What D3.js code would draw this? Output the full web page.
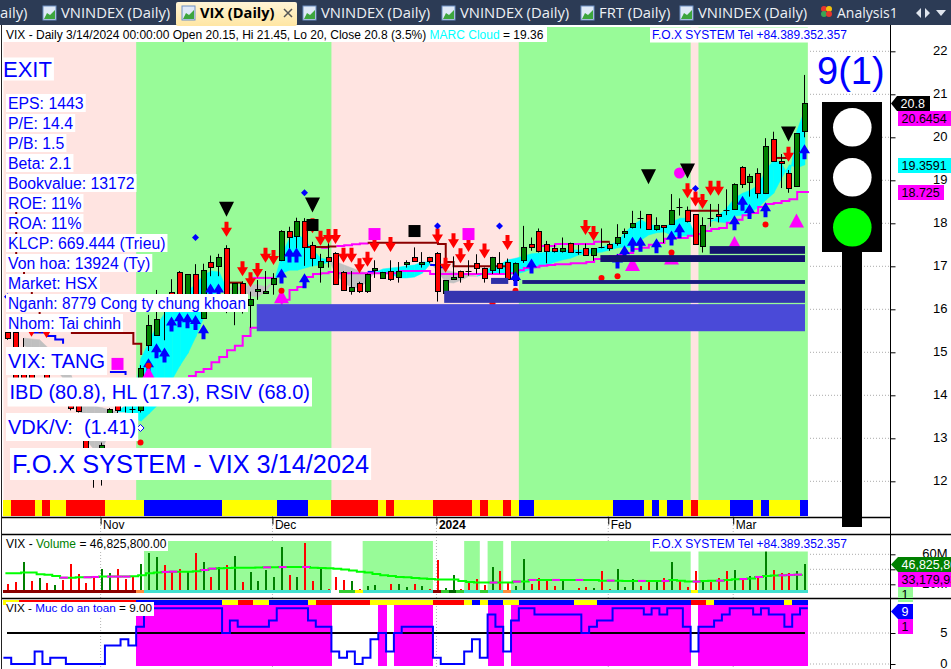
<!DOCTYPE html>
<html>
<head>
<meta charset="utf-8">
<title>VIX (Daily)</title>
<script src="https://cdn.jsdelivr.net/npm/d3@7"></script>
<style>
  html, body { margin: 0; padding: 0; background: #fff; overflow: hidden; }
  svg { display: block; font-family: "Liberation Sans", Arial, sans-serif; }
</style>
</head>
<body>
<svg id="chart" width="951" height="669"></svg>
<script>
// daily bars, oldest first (3/14/2024 is the last one)
var opens = [
  15.47,15.47,15.05,14.85,14.20,14.65,14.10,14.00,13.95,13.90,
  13.00,12.10,12.20,13.20,14.00,13.90,13.68,13.66,15.16,15.40,
  16.05,16.41,16.86,16.05,16.81,15.79,17.11,16.99,17.42,16.14,
  16.61,16.11,16.42,16.37,16.59,17.15,17.82,17.69,18.05,17.50,
  16.99,17.21,17.30,16.86,16.41,16.60,16.41,16.90,16.72,16.90,
  16.76,17.06,17.21,17.06,17.21,17.30,16.36,16.72,16.90,16.90,
  17.07,16.95,16.90,17.07,17.11,16.67,17.15,17.51,17.81,17.51,
  17.42,17.34,17.55,17.34,17.42,17.25,17.45,17.51,17.55,17.76,
  17.90,18.12,18.21,17.86,17.95,17.99,18.37,18.30,18.21,17.46,
  18.12,18.21,18.30,18.34,19.30,18.95,19.16,18.69,19.95,19.44,
  19.16,18.86,20.15];
var highs = [
  15.73,15.52,15.33,15.10,14.34,14.70,14.30,14.20,14.10,14.05,
  13.10,12.75,12.90,13.70,14.10,14.00,13.90,14.70,15.87,16.45,
  16.30,16.70,16.89,16.82,17.05,17.06,17.25,17.29,17.49,16.61,
  16.65,16.41,16.68,16.89,16.84,17.84,17.92,18.13,18.12,17.57,
  17.29,17.57,17.33,16.89,16.89,16.64,16.83,17.14,16.87,17.14,
  17.10,17.14,17.44,17.33,17.22,17.33,16.68,17.23,16.90,17.14,
  17.28,16.97,17.22,17.33,17.18,17.09,17.94,17.67,17.88,17.59,
  17.50,17.67,17.55,17.50,17.53,17.42,17.88,17.55,17.98,17.88,
  18.29,18.29,18.21,18.14,17.95,18.68,18.58,18.39,18.21,18.14,
  18.45,18.45,18.79,18.93,19.33,19.15,19.28,19.98,20.13,19.61,
  19.24,20.09,21.45];
var lows = [
  15.29,14.35,14.70,14.30,14.00,14.30,13.90,13.80,13.65,13.60,
  12.40,11.85,11.90,13.00,13.55,13.60,13.58,13.60,15.03,15.38,
  15.28,15.99,16.05,16.00,16.00,15.79,16.77,16.77,15.91,15.63,
  15.90,15.57,16.22,16.37,16.34,17.12,17.42,17.39,17.01,17.00,
  16.62,16.97,16.58,16.43,16.34,16.38,16.38,16.73,16.71,16.66,
  16.62,16.97,17.11,16.97,17.07,16.18,16.36,16.70,16.62,16.78,
  16.83,16.62,16.82,16.83,16.70,16.62,17.08,17.36,17.32,17.07,
  17.32,17.32,17.32,17.27,17.24,17.13,17.42,17.36,17.48,17.66,
  17.88,17.88,17.85,17.83,17.54,17.98,18.18,18.02,17.50,17.32,
  17.92,18.02,18.19,18.34,18.82,18.62,18.58,18.68,19.43,18.82,
  18.71,18.85,20.00];
var closes = [
  15.33,14.40,14.40,14.36,14.30,14.35,14.00,13.90,13.70,13.65,
  12.50,12.70,12.85,13.67,13.65,13.85,13.68,14.63,15.63,15.77,
  16.25,16.05,16.10,16.81,16.05,16.91,16.99,17.21,16.30,16.61,
  16.15,16.25,16.47,16.42,16.72,17.82,17.69,18.05,17.45,17.20,
  17.12,17.11,16.59,16.45,16.51,16.41,16.81,16.95,16.86,16.71,
  16.90,17.11,17.11,17.11,17.11,16.41,16.67,16.76,16.76,16.90,
  16.95,16.71,17.21,16.95,16.71,17.07,17.45,17.45,17.34,17.34,
  17.34,17.42,17.34,17.34,17.25,17.42,17.45,17.41,17.69,17.81,
  18.00,18.12,17.86,17.95,17.90,18.31,18.37,18.04,17.51,17.95,
  18.12,18.16,18.30,18.91,18.90,19.09,18.70,19.79,19.44,19.39,
  18.82,20.09,20.80];

// MARC cloud: cyan where fast is above slow, grey where it is below. starts at bar 2
var cloudFast = [
  15.15,15.07,15.01,14.82,14.63,14.40,14.12,13.84,12.96,12.73,
  12.73,13.19,13.61,13.78,13.89,14.87,15.24,15.63,15.91,16.10,
  16.26,16.43,16.59,16.80,16.89,16.87,16.45,16.45,16.45,16.31,
  16.29,16.43,16.63,17.26,17.66,17.75,17.61,17.38,17.19,17.15,
  16.80,16.61,16.50,16.50,16.66,16.87,16.94,16.96,16.98,17.01,
  17.03,17.10,17.10,16.87,16.63,16.61,16.68,16.77,16.77,16.87,
  17.01,17.05,17.15,17.19,17.24,17.29,17.31,17.33,17.36,17.38,
  17.38,17.38,17.38,17.40,17.45,17.50,17.57,17.80,17.96,18.08,
  17.98,17.94,17.89,18.03,18.12,18.12,17.71,17.71,18.03,18.19,
  18.36,18.59,18.70,18.77,18.89,19.24,19.47,19.40,19.05,20.17,
  20.65];
var cloudSlow = [
  15.33,15.31,15.29,15.12,14.94,14.70,14.47,14.08,13.80,13.75,
  13.71,13.66,13.61,13.61,13.47,13.40,13.57,13.75,14.03,14.38,
  14.70,14.98,15.36,15.80,16.29,16.45,16.43,16.54,16.50,16.57,
  16.57,16.52,16.68,16.84,16.91,16.91,16.96,17.01,17.03,17.10,
  17.10,17.03,16.96,16.89,16.84,16.87,16.84,16.82,16.73,16.73,
  16.75,16.84,17.05,17.03,16.91,16.87,16.82,16.80,16.77,16.82,
  16.84,16.82,16.80,16.82,16.87,16.94,16.98,17.03,17.10,17.15,
  17.19,17.26,17.29,17.31,17.33,17.38,17.43,17.45,17.43,17.61,
  17.73,17.78,17.80,17.71,17.71,17.71,17.71,17.80,18.08,18.03,
  18.01,18.17,18.19,18.26,18.36,18.54,18.70,19.05,19.36,19.29,
  19.36];
var cloudStart = 2;

// rising magenta stop, starts at bar 23
var trailStop = [
  14.45,14.54,14.61,14.77,14.89,15.05,15.15,15.38,15.57,15.75,
  15.80,15.98,16.22,16.45,16.52,16.75,16.82,16.84,16.87,16.84,
  16.84,16.84,16.84,16.84,16.84,16.84,16.84,16.89,16.89,16.89,
  16.89,16.82,16.82,16.82,16.82,16.82,16.82,16.82,16.82,16.82,
  16.82,16.84,16.91,16.96,16.98,17.01,17.03,17.05,17.05,17.07,
  17.07,17.10,17.17,17.17,17.24,17.26,17.31,17.40,17.43,17.50,
  17.54,17.64,17.66,17.66,17.71,17.75,17.82,17.87,17.89,18.01,
  18.08,18.19,18.24,18.38,18.45,18.47,18.52,18.56,18.73];
var trailStart = 23;

// short stop segments: first bar, then one price per bar
var darkRedStops = [
  [0, 18.43,17.26,16.61,15.98,15.45],
  [8, 15.45,15.45,15.45,15.45,15.45,15.45,15.45,15.45,15.20,14.94],
  [28, 16.62,16.62,16.62],
  [38, 17.45,17.45,17.45,17.46,17.46],
  [46, 17.55,17.55,17.55,17.55,17.55,17.55,17.55,17.55,17.55,17.52,17.10,17.00,17.00,17.00,17.00,17.00,17.00,17.00,17.00],
  [76, 17.57,17.57],
  [87, 18.29,18.29,18.29,18.29,18.29],
  [98, 19.52,19.52,19.52]
];
var magentaStops = [
  [31, 16.73,16.73,16.73,16.73],
  [40, 17.43,17.43],
  [42, 17.47,17.49,17.51,17.53,17.55],
  [68, 17.47,17.47,17.52,17.52,17.52,17.52,17.52,17.57,17.57]
];
var blueStops = [
  [3, 15.46,15.46,15.38,15.30,15.20],
  [13, 14.54,14.54,14.47],
  [46, 16.87,16.87],
  [54, 17.03,16.98,16.91],
  [58, 16.82,16.82,16.82]
];

// signals as [bar, price]
var redArrows = [[3,15.36],[5,15.33],[28,17.69],[30,16.77],[31,16.51],[32,16.73],[33,17.08],[34,17.03],[39,17.77],[40,17.48],[41,17.52],
  [42,17.52],[43,17.08],[44,17.08],[45,16.84],[46,16.99],[47,17.33],[49,17.33],[55,17.53],[56,16.85],[57,17.42],[58,17.07],[59,17.33],
  [61,17.18],[64,17.38],[74,17.73],[75,17.59],[87,18.58],[88,18.39],[89,18.33],[90,18.64],[91,18.64],[100,19.43]];
var blueArrows = [[18,14.86],[19,15.21],[20,15.11],[21,15.83],[22,15.93],[23,15.91],[24,15.87],[25,15.65],[26,16.60],[27,16.60],
  [35,16.95],[36,17.44],[37,17.44],[38,16.84],[65,16.89],[67,17.18],[78,17.30],[79,17.49],[80,17.69],[81,17.69],[83,17.65],[85,17.83],
  [86,18.00],[93,18.19],[94,18.64],[95,18.45],[97,18.49],[102,19.84]];
var blackTriangles = [[28,18.15],[39,18.25],[82,18.91],[87,19.04],[100,19.90]];
var magentaTriangles = [[18,14.34],[35,16.14],[80,16.89],[85,17.04],[93,17.38],[101,17.90]];
var redDots = [[17,12.90],[18,14.69],[35,16.43],[62,16.14],[65,16.43],[76,16.73],[78,16.77],[85,17.32],[97,17.97]];
var blueDiamonds = [[0,16.29],[24,17.67],[38,18.71],[55,17.94],[63,17.94],[88,18.81]];
var hollowDiamonds = [[17,13.24]];
var magentaSquares = [[14,14.73],[47,17.75],[59,17.75]];
var blackSquares = [[39,17.96],[52,17.82]];
var magentaCircles = [[86,19.17]];

// volume at price blocks: first bar, last bar, low, high, shade
var bandStart = [31.8, 55.8, 61.8, 65.8, 75.8, 89.8];
var bandEnd = [102, 102, 64, 102, 102, 102];
var bandLow = [15.49, 16.15, 16.59, 16.59, 17.10, 17.29];
var bandHigh = [16.12, 16.43, 16.73, 16.68, 17.26, 17.47];
var bandShade = ["#4a4ad8", "#3535b0", "#2e2ea8", "#1b1b80", "#13136e", "#13136e"];

// pink / green zones
var greenZones = [[17,42],[66,88],[89,103]];
var volumeZones = [[18,42],[46,55],[59,61],[62,64],[65,88],[89,103]];

// colour strips as [code, number of bars]
var trendRuns = [["y",1],["r",3],["y",1],["r",1],["y",2],["r",5],["y",5],["b",10],["y",7],["b",4],["y",3],["r",6],["y",1],["r",1],["y",5],
  ["r",5],["y",1],["r",1],["y",2],["r",1],["y",1],["b",2],["y",10],["b",4],["y",1],["b",1],["y",1],["b",2],["y",1],["r",1],["y",4],["b",3],
  ["y",1],["b",1],["y",4],["b",1]];
var safetyRuns = [["y",2],["r",15],["b",11],["y",2],["r",2],["y",2],["b",5],["y",1],["r",7],["y",8],["r",4],["y",1],["b",1],["y",1],["b",2],
  ["y",2],["b",7],["y",3],["b",12],["r",2],["y",1],["b",9],["y",1],["b",2]];
var volumeRuns = [["d",17],["o",1],["t",24],["w",1],["g",2],["y",1],["t",9],["d",1],["g",1],["k",1],["g",1],["t",2],["g",1],["t",2],["o",1],
  ["t",23],["y",1],["t",14]];

// volume in millions
var volumes = [
  20.4,23.5,49.7,24.4,28.4,21.8,19.1,25.8,47.1,33.8,
  21.8,31.1,40.4,35.1,40.4,27.1,31.1,47.1,61.8,56.4,
  45.7,36.5,40.4,36.5,61.8,49.7,29.8,43.1,45.7,57.8,
  23.1,36.5,24.4,39.1,29.8,69.7,32.5,29.8,75.1,24.4,
  41.8,13.8,29.8,25.8,24.4,13.8,17.8,19.1,11.6,20.5,
  20.5,16.5,20.5,17.8,13.8,52.5,15.1,32.5,13.8,21.8,
  27.1,19.1,43.1,37.8,23.0,17.8,53.8,20.5,28.4,24.4,
  17.8,25.8,11.2,15.1,16.5,15.1,37.8,13.8,40.4,16.5,
  27.1,17.8,25.8,23.1,28.4,49.7,25.8,16.5,37.8,24.4,
  23.1,28.4,37.8,39.1,25.8,31.1,29.8,64.4,39.1,35.1,
  35.1,37.8,46.8];
var volumeGreen = [2,4,6,12,13,17,18,19,23,25,27,29,31,32,33,34,35,37,40,44,46,47,48,50,51,53,56,57,62,65,66,71,75,78,79,80,83,85,89,93,95,97,101,102];
var volumeAverage = [
  34.7,34.7,35.6,35.6,33.4,32.9,31.2,28.9,28.9,29.4,
  29.4,29.8,30.3,30.3,30.3,30.3,30.7,32.0,34.7,35.6,
  36.5,36.9,36.9,36.9,37.4,39.1,40.9,41.4,41.8,42.2,
  42.2,42.2,42.4,42.6,42.8,43.0,43.1,43.1,43.1,42.2,
  41.8,41.4,40.9,39.6,38.3,36.9,35.6,33.8,32.0,31.2,
  29.8,29.4,28.5,27.6,27.1,26.3,26.3,26.3,24.5,23.2,
  22.3,22.3,22.3,22.3,22.3,23.6,23.6,25.8,25.8,25.8,
  25.8,25.8,25.8,25.8,25.8,25.8,24.9,24.9,24.9,24.5,
  24.5,24.5,24.5,24.5,24.5,25.8,24.9,23.6,23.6,24.5,
  24.9,24.9,25.8,26.7,27.1,27.6,29.8,31.2,31.6,32.0,
  32.5,32.9,33.2];
var averageMagenta = [7,10,11,13,14,15,20,21,25,26,33,35,38,62,65,67,70,73,77,81,84,88,91,94,96,99,100,101];

// Muc do an toan
var safety = [
  1,0,0,0,2,0,1,1,0,0,
  0,0,0,3,3,4,3,6,9,9,
  9,9,9,9,9,9,9,9,5,7,
  6,6,6,6,7,9,9,9,9,7,
  6,6,2,1,2,0,1,4,5,2,
  5,6,6,6,6,1,0,0,0,2,
  4,1,8,6,2,7,9,9,8,8,
  8,8,8,8,5,6,7,7,9,9,
  9,9,8,9,8,9,9,6,2,6,
  6,7,8,9,9,9,8,9,8,8,
  6,8,9];

var priceTicks = [12,13,14,15,16,17,18,19,20,21,22];
var volumeTicks = [20,40,60];
var safetyTicks = [0,5];
var monthBars = [12,34,55,77,93];
var monthNames = ["Nov","Dec","2024","Feb","Mar"];

var infoLines = ["EPS: 1443","P/E: 14.4","P/B: 1.5","Beta: 2.1","Bookvalue: 13172","ROE: 11%","ROA: 11%","KLCP: 669.444 (Trieu)",
  "Von hoa: 13924 (Ty)","Market: HSX","Nganh: 8779 Cong ty chung khoan","Nhom: Tai chinh"];

var tabs = [
  {icon: null, text: "aily)", x: 0},
  {icon: 43, text: "VNINDEX (Daily)", x: 61},
  {icon: 303, text: "VNINDEX (Daily)", x: 321},
  {icon: 442, text: "VNINDEX (Daily)", x: 460},
  {icon: 581, text: "FRT (Daily)", x: 599},
  {icon: 680, text: "VNINDEX (Daily)", x: 698}
];

var svg = d3.select("#chart");
var width = 951, height = 669;

var stripColor = {y: "#ffff00", r: "#ff0000", b: "#0000ff", d: "#8b0000", o: "#ff8c3c", t: "#40e0d0", w: "#ffffff", g: "#32cd32", k: "#006400"};

var x = d3.scaleLinear().domain([0, 102]).range([8.4, 805]);
var step = x(1) - x(0);
function barLeft(i) { return x(i) - 5; }
function barMid(i) { return Math.round(x(i)) - 0.5; }

var y = d3.scaleLinear().domain([12, 22]).range([481.3, 51.3]);
var yVol = d3.scaleLinear().domain([0, 60]).range([599.3, 554.3]);
var ySafe = d3.scaleLinear().domain([0, 9]).range([664, 608.2]);

svg.append("rect").attr("width", width).attr("height", height).attr("fill", "#fff");

// dotted month lines, only seen on white
svg.selectAll(".monthline").data(monthBars).enter().append("line")
  .attr("x1", function(d){ return x(d) - 1.5; }).attr("x2", function(d){ return x(d) - 1.5; })
  .attr("y1", 27).attr("y2", 669)
  .attr("stroke", "#b4b4b4").attr("stroke-dasharray", "1,2");

// ---- main panel
var main = svg.append("g");

main.append("rect").attr("x", barLeft(0)).attr("y", 27).attr("width", barLeft(103) - barLeft(0)).attr("height", 473).attr("fill", "#ffe4e1");
main.selectAll(".zone").data(greenZones).enter().append("rect")
  .attr("x", function(d){ return barLeft(d[0]); })
  .attr("width", function(d){ return barLeft(d[1]) - barLeft(d[0]); })
  .attr("y", 27).attr("height", 473).attr("fill", "#98fb98");

function gridLines(scale, ticks, x1) {
  svg.append("g").selectAll("line").data(ticks).enter().append("line")
    .attr("x1", x1).attr("x2", 890)
    .attr("y1", function(d){ return scale(d); }).attr("y2", function(d){ return scale(d); })
    .attr("stroke", "#aaa").attr("stroke-dasharray", "1,2");
}
gridLines(y, priceTicks, 810);
gridLines(yVol, volumeTicks, 810);
gridLines(ySafe, safetyTicks, 810);

// cloud, one piece per bar so the colour can flip
var cloudArea = d3.area()
  .x(function(d){ return x(d.i); })
  .y0(function(d){ return y(d.slow); })
  .y1(function(d){ return y(d.fast); });

var cloudPairs = d3.range(cloudFast.length - 1).map(function(k){
  return [
    {i: k + cloudStart, fast: cloudFast[k], slow: cloudSlow[k]},
    {i: k + 1 + cloudStart, fast: cloudFast[k + 1], slow: cloudSlow[k + 1]}
  ];
});
main.append("g").selectAll("path").data(cloudPairs).enter().append("path")
  .attr("d", cloudArea)
  .attr("fill", function(d){
    return (d[0].fast + d[1].fast) >= (d[0].slow + d[1].slow) ? "#00ffff" : "#c0c0c0";
  })
  .attr("stroke", function(d){
    return (d[0].fast + d[1].fast) >= (d[0].slow + d[1].slow) ? "#00ffff" : "#c0c0c0";
  })
  .attr("stroke-width", 0.5);

// stop lines
var stopLine = d3.line().x(function(d){ return x(d[0]); }).y(function(d){ return y(d[1]); }).curve(d3.curveStepAfter);

function drawStops(list, color) {
  list.forEach(function(seg){
    var pts = seg.slice(1).map(function(p, k){ return [seg[0] + k, p]; });
    main.append("path").attr("d", stopLine(pts)).attr("fill", "none").attr("stroke", color).attr("stroke-width", 2);
  });
}
drawStops(magentaStops, "#ff00ff");
drawStops(blueStops, "#0000ff");
drawStops(darkRedStops, "#8b0000");

var trailPts = trailStop.map(function(p, k){ return [k + trailStart, p]; });
trailPts.push([102.5, trailStop[trailStop.length - 1]]);
main.append("path").attr("d", stopLine(trailPts)).attr("fill", "none").attr("stroke", "#ff00ff").attr("stroke-width", 2);

// candles
var bars = d3.range(opens.length);
var candles = main.append("g").selectAll("g").data(bars).enter().append("g");

candles.append("line")
  .attr("x1", barMid).attr("x2", barMid)
  .attr("y1", function(i){ return y(highs[i]); }).attr("y2", function(i){ return y(lows[i]); })
  .attr("stroke", "#000");

candles.filter(function(i){ return opens[i] === closes[i]; }).append("line")
  .attr("x1", function(i){ return barMid(i) - 3; }).attr("x2", function(i){ return barMid(i) + 3; })
  .attr("y1", function(i){ return Math.round(y(opens[i])) + 0.5; }).attr("y2", function(i){ return Math.round(y(opens[i])) + 0.5; })
  .attr("stroke", "#000");

candles.filter(function(i){ return opens[i] !== closes[i]; }).append("rect")
  .attr("x", function(i){ return barMid(i) - 2; })
  .attr("width", 5)
  .attr("y", function(i){ return Math.round(y(Math.max(opens[i], closes[i]))) + 0.5; })
  .attr("height", function(i){ return Math.max(2, Math.round(y(Math.min(opens[i], closes[i])) - y(Math.max(opens[i], closes[i])))); })
  .attr("fill", function(i){ return closes[i] > opens[i] ? "#008000" : "#ff0000"; })
  .attr("stroke", "#000");

// signals
function arrowPath(px, tip, dir) {
  // dir 1 points down, -1 points up
  var s = "M" + px + "," + tip;
  s += "L" + (px - 5.5) + "," + (tip - dir * 9);
  s += "L" + (px - 2) + "," + (tip - dir * 9);
  s += "L" + (px - 2) + "," + (tip - dir * 15);
  s += "L" + (px + 2) + "," + (tip - dir * 15);
  s += "L" + (px + 2) + "," + (tip - dir * 9);
  s += "L" + (px + 5.5) + "," + (tip - dir * 9) + "Z";
  return s;
}
function cx(d) { return barMid(d[0]); }

main.append("g").selectAll("path").data(magentaCircles).enter().append("circle")
  .attr("cx", cx).attr("cy", function(d){ return y(d[1]); }).attr("r", 5.5).attr("fill", "#ff00ff");

main.append("g").selectAll("path").data(redArrows).enter().append("path")
  .attr("d", function(d){ return arrowPath(cx(d), y(d[1]), 1); }).attr("fill", "#ff0000");

main.append("g").selectAll("path").data(blueArrows).enter().append("path")
  .attr("d", function(d){ return arrowPath(cx(d), y(d[1]), -1); }).attr("fill", "#0000ff");

main.append("g").selectAll("path").data(blackTriangles).enter().append("path")
  .attr("d", function(d){ var px = cx(d), t = y(d[1]); return "M" + px + "," + t + "L" + (px - 7.5) + "," + (t - 15) + "L" + (px + 7.5) + "," + (t - 15) + "Z"; })
  .attr("fill", "#000");

main.append("g").selectAll("path").data(magentaTriangles).enter().append("path")
  .attr("d", function(d){ var px = cx(d), b = y(d[1]); return "M" + px + "," + (b - 14) + "L" + (px - 7.5) + "," + b + "L" + (px + 7.5) + "," + b + "Z"; })
  .attr("fill", "#ff00ff");

main.append("g").selectAll("rect").data(blackSquares).enter().append("rect")
  .attr("x", function(d){ return cx(d) - 6; }).attr("y", function(d){ return y(d[1]) - 6; })
  .attr("width", 12).attr("height", 12).attr("fill", "#000");

main.append("g").selectAll("rect").data(magentaSquares).enter().append("rect")
  .attr("x", function(d){ return cx(d) - 6; }).attr("y", function(d){ return y(d[1]) - 6; })
  .attr("width", 12).attr("height", 12).attr("fill", "#ff00ff");

main.append("g").selectAll("circle").data(redDots).enter().append("circle")
  .attr("cx", cx).attr("cy", function(d){ return y(d[1]); }).attr("r", 3).attr("fill", "#ff0000");

function diamond(d) {
  var px = cx(d), py = y(d[1]);
  return "M" + px + "," + (py - 3.5) + "L" + (px + 3.5) + "," + py + "L" + px + "," + (py + 3.5) + "L" + (px - 3.5) + "," + py + "Z";
}
main.append("g").selectAll("path").data(blueDiamonds).enter().append("path").attr("d", diamond).attr("fill", "#0000ff");
main.append("g").selectAll("path").data(hollowDiamonds).enter().append("path").attr("d", diamond).attr("fill", "#ffffff").attr("stroke", "#0000ff");

// volume blocks sit above the candles
main.append("g").selectAll("rect").data(bandStart).enter().append("rect")
  .attr("x", function(d){ return x(d); })
  .attr("width", function(d, k){ return x(bandEnd[k]) - x(d); })
  .attr("y", function(d, k){ return y(bandHigh[k]); })
  .attr("height", function(d, k){ return y(bandLow[k]) - y(bandHigh[k]); })
  .attr("fill", function(d, k){ return bandShade[k]; });

// colour strips
function expandRuns(runs) {
  var out = [];
  runs.forEach(function(r){ d3.range(r[1]).forEach(function(){ out.push(r[0]); }); });
  return out;
}
function drawStrip(runs, top, h) {
  svg.append("g").selectAll("rect").data(expandRuns(runs)).enter().append("rect")
    .attr("x", function(d, i){ return barLeft(i); })
    .attr("width", step + 0.5)
    .attr("y", top).attr("height", h)
    .attr("fill", function(d){ return stripColor[d]; })
    .attr("shape-rendering", "crispEdges");
}
drawStrip(trendRuns, 500, 16);

// ---- volume panel
svg.append("g").selectAll("rect").data(volumeZones).enter().append("rect")
  .attr("x", function(d){ return barLeft(d[0]); })
  .attr("width", function(d){ return barLeft(d[1]) - barLeft(d[0]); })
  .attr("y", 541).attr("height", 50).attr("fill", "#98fb98");

svg.append("g").selectAll("rect").data(volumes).enter().append("rect")
  .attr("x", function(d, i){ return barMid(i) - 1; })
  .attr("width", 2)
  .attr("y", function(d){ return yVol(d); })
  .attr("height", function(d){ return yVol(10) - yVol(d); })
  .attr("fill", function(d, i){ return volumeGreen.indexOf(i) >= 0 ? "#008000" : "#ff0000"; })
  .attr("shape-rendering", "crispEdges");

var avgPts = volumeAverage.map(function(v, i){ return [i, v]; });
var avgLine = d3.line().x(function(d){ return barLeft(d[0]) + 2; }).y(function(d){ return yVol(d[1]); }).curve(d3.curveStepAfter);
svg.append("path").attr("d", avgLine(avgPts)).attr("fill", "none").attr("stroke", "#00ff00").attr("stroke-width", 2);
svg.append("g").selectAll("path").data(averageMagenta).enter().append("path")
  .attr("d", function(i){ return avgLine([[i, volumeAverage[i]], [i + 1, volumeAverage[i]]]); })
  .attr("fill", "none").attr("stroke", "#ff00ff").attr("stroke-width", 2);

drawStrip(volumeRuns, 590, 3);

// ---- safety panel
svg.append("g").selectAll("rect").data(safety).enter().append("rect")
  .attr("x", function(d, i){ return barLeft(i); })
  .attr("width", function(d){ return d >= 5 ? step + 0.5 : 0; })
  .attr("y", 605).attr("height", 61)
  .attr("fill", "#ff00ff")
  .attr("shape-rendering", "crispEdges");
drawStrip(safetyRuns, 600, 5);

svg.append("line").attr("x1", 7).attr("x2", x(102)).attr("y1", ySafe(5)).attr("y2", ySafe(5)).attr("stroke", "#000").attr("stroke-width", 2);

var safetyPts = safety.map(function(v, i){ return [i, v]; });
safetyPts.push([103, safety[safety.length - 1]]);
svg.append("path")
  .attr("d", d3.line().x(function(d){ return barLeft(d[0]); }).y(function(d){ return ySafe(d[1]); }).curve(d3.curveStepAfter)(safetyPts))
  .attr("fill", "none").attr("stroke", "#0000ff").attr("stroke-width", 2);

// ---- labels with white boxes
function boxedText(g, str, px, cy, size, opts) {
  opts = opts || {};
  var t = g.append("text").attr("x", px).attr("y", cy).attr("dy", "0.36em")
    .attr("font-size", size).attr("fill", opts.color || "#0000ff").attr("xml:space", "preserve").text(str);
  if (opts.len) t.attr("textLength", opts.len).attr("lengthAdjust", "spacingAndGlyphs");
  var b = t.node().getBBox();
  g.insert("rect", "text:last-child")
    .attr("x", b.x - 2).attr("y", cy - (opts.h || size + 3) / 2)
    .attr("width", b.width + 4).attr("height", opts.h || size + 3).attr("fill", "#fff");
  return t;
}
function labelLayer() { return svg.append("g"); }

boxedText(labelLayer(), "EXIT", 3, 69, 22, {h: 23});
infoLines.forEach(function(s, k){
  // the long Nganh line is narrower on the reference than the font gives
  var o = {h: 18};
  if (k === 10) o.len = 238;
  boxedText(labelLayer(), s, 8, 103 + k * 20, 15.8, o);
});
boxedText(labelLayer(), "VIX: TANG", 8, 361, 20, {h: 28});
boxedText(labelLayer(), "IBD (80.8), HL (17.3), RSIV (68.0)", 9.5, 392, 20, {h: 29});
boxedText(labelLayer(), "VDK/V:  (1.41)", 8, 427, 20, {h: 28});
boxedText(labelLayer(), "F.O.X SYSTEM - VIX 3/14/2024", 12, 464, 25.3, {h: 32});

// "9(1)"
svg.append("text").attr("x", 817).attr("y", 84).attr("font-size", 38).attr("fill", "#0000ff").text("9(1)");

// header line, three colours
var headerG = labelLayer();
headerG.append("rect").attr("x", 3).attr("y", 27).attr("width", 544).attr("height", 15).attr("fill", "#fff");
var header = headerG.append("text").attr("x", 6).attr("y", 39).attr("font-size", 12).attr("xml:space", "preserve");
header.append("tspan").attr("fill", "#000").text("VIX - Daily 3/14/2024 00:00:00 Open 20.15, Hi 21.45, Lo 20, Close 20.8 (3.5%) ");
header.append("tspan").attr("fill", "#00ffff").text("MARC Cloud");
header.append("tspan").attr("fill", "#000").text(" = 19.36");

boxedText(labelLayer(), "F.O.X SYSTEM Tel +84.389.352.357", 652, 35, 12, {h: 15});
boxedText(labelLayer(), "F.O.X SYSTEM Tel +84.389.352.357", 652, 544, 12, {h: 15});

var volG = labelLayer();
volG.append("rect").attr("x", 3).attr("y", 538).attr("width", 165).attr("height", 13).attr("fill", "#fff");
var volT = volG.append("text").attr("x", 6).attr("y", 548).attr("font-size", 12).attr("xml:space", "preserve");
volT.append("tspan").attr("fill", "#000").text("VIX - ");
volT.append("tspan").attr("fill", "#008000").text("Volume");
volT.append("tspan").attr("fill", "#000").text(" = 46,825,800.00");

var safeG = labelLayer();
safeG.append("rect").attr("x", 6).attr("y", 602).attr("width", 148).attr("height", 14).attr("fill", "#fff");
var safeT = safeG.append("text").attr("x", 6).attr("y", 612).attr("font-size", 11.7).attr("xml:space", "preserve");
safeT.append("tspan").attr("fill", "#000").text("VIX - ");
safeT.append("tspan").attr("fill", "#0000ff").text("Muc do an toan");
safeT.append("tspan").attr("fill", "#000").text(" = 9.00");

// traffic light
var light = svg.append("g");
light.append("rect").attr("x", 842).attr("y", 252).attr("width", 20).attr("height", 275).attr("fill", "#000");
light.append("rect").attr("x", 822).attr("y", 102).attr("width", 60).attr("height", 150).attr("fill", "#000");
light.selectAll("circle").data([{cy: 127.3, f: "#ffffff"}, {cy: 177.3, f: "#ffffff"}, {cy: 227.3, f: "#00ff00"}]).enter().append("circle")
  .attr("cx", 852.3).attr("cy", function(d){ return d.cy; }).attr("r", 19.3).attr("fill", function(d){ return d.f; });

// frame lines
function hline(py, x2) { svg.append("line").attr("x1", 2).attr("x2", x2).attr("y1", py).attr("y2", py).attr("stroke", "#000").attr("stroke-width", 1.5); }
hline(517.5, 890);
hline(534.5, 951);
hline(598.5, 951);
svg.append("line").attr("x1", 1.5).attr("x2", 1.5).attr("y1", 25).attr("y2", 669).attr("stroke", "#222");
svg.append("line").attr("x1", 890.5).attr("x2", 890.5).attr("y1", 25).attr("y2", 669).attr("stroke", "#000");

// axes
function valueAxis(scale, ticks, fmt) {
  var g = svg.append("g").attr("transform", "translate(890.5,0)")
    .call(d3.axisRight(scale).tickValues(ticks).tickFormat(fmt).tickSize(5).tickSizeOuter(0));
  g.select(".domain").remove();
  g.selectAll("line").attr("stroke", "#000");
  g.selectAll("text").attr("x", 57).attr("dy", "0.28em").attr("text-anchor", "end")
    .attr("font-size", 13).attr("font-family", "Liberation Sans, Arial, sans-serif").attr("fill", "#000");
}
valueAxis(y, priceTicks, function(d){ return d; });
valueAxis(yVol, volumeTicks, function(d){ return d + "M"; });
valueAxis(ySafe, safetyTicks, function(d){ return d; });

var monthAxis = svg.append("g").attr("transform", "translate(-1,517.5)")
  .call(d3.axisBottom(d3.scaleLinear().domain(x.domain()).range([x(0) - 0.5, x(102) - 0.5]))
    .tickValues(monthBars).tickFormat(function(d){ return monthNames[monthBars.indexOf(d)]; }).tickSize(7).tickSizeOuter(0));
monthAxis.select(".domain").remove();
monthAxis.selectAll("line").attr("stroke", "#000");
monthAxis.selectAll("text")
  .attr("y", 3).attr("dy", "0.71em").attr("dx", 2).attr("text-anchor", "start")
  .attr("font-size", 12).attr("font-family", "Liberation Sans, Arial, sans-serif").attr("fill", "#000")
  .attr("font-weight", function(d, k){ return monthNames[k] === "2024" ? "bold" : "normal"; });

// price tags on the right
function tag(str, px, top, w, fill, color, arrow) {
  var g = svg.append("g");
  g.append("rect").attr("x", px).attr("y", top).attr("width", w).attr("height", 15).attr("fill", fill);
  if (arrow) {
    g.append("path").attr("d", "M891," + (top + 7.5) + "L" + px + "," + top + "L" + px + "," + (top + 15) + "Z").attr("fill", fill);
  }
  g.append("text").attr("x", px + 3.5).attr("y", top + 12).attr("font-size", 12.5).attr("fill", color).text(str);
}
tag("20.8", 897, 96, 33, "#000000", "#ffffff", true);
tag("20.6454", 898, 111, 53, "#ff00ff", "#000000");
tag("19.3591", 898, 158, 53, "#00ffff", "#000000");
tag("18.725", 898, 185, 46, "#ff00ff", "#000000");
tag("46,825,800", 898, 557, 53, "#008000", "#ffffff", true);
tag("33,179,930", 898, 572, 53, "#ff00ff", "#000000");
tag("1", 898, 587, 15, "#98fb98", "#000000");
tag("9", 898, 604, 15, "#0000ff", "#ffffff", true);
tag("1", 898, 619, 15, "#ff00ff", "#000000");
svg.append("rect").attr("x", 898).attr("y", 598).attr("width", 20).attr("height", 1).attr("fill", "#000");

// ---- tab strip
var tabG = svg.append("g");
var grad = svg.append("defs").append("linearGradient").attr("id", "activeTab").attr("x1", 0).attr("x2", 0).attr("y1", 0).attr("y2", 1);
grad.append("stop").attr("offset", 0).attr("stop-color", "#fff4d6");
grad.append("stop").attr("offset", 1).attr("stop-color", "#ffe6a3");

tabG.append("rect").attr("width", width).attr("height", 25).attr("fill", "#2c3b55");
tabG.append("rect").attr("x", 176).attr("y", 2).attr("width", 121).attr("height", 24).attr("rx", 2).attr("fill", "url(#activeTab)");

function tabIcon(px) {
  tabG.append("rect").attr("x", px).attr("y", 6).attr("width", 13).attr("height", 14).attr("fill", "#dfe9f7").attr("stroke", "#6d8fc4");
  tabG.append("path").attr("d", "M" + (px + 1) + ",19L" + (px + 4) + ",13L" + (px + 7) + ",15L" + (px + 12) + ",10L" + (px + 12) + ",19Z").attr("fill", "#3da53d");
}
tabs.forEach(function(t){
  if (t.icon !== null) tabIcon(t.icon);
  tabG.append("text").attr("x", t.x).attr("y", 18).attr("font-size", 14.8).attr("font-family", "Open Sans, sans-serif").attr("fill", "#eef1f5").text(t.text);
});
tabIcon(182);
tabG.append("text").attr("x", 200).attr("y", 18).attr("font-size", 14.6).attr("font-family", "Open Sans, sans-serif").attr("font-weight", "bold").attr("fill", "#000").text("VIX (Daily)");
tabG.append("path").attr("d", "M284,9L292,17M292,9L284,17").attr("stroke", "#555").attr("stroke-width", 1.5);

// Analysis1 tab with its little coloured icon
[[824,9,"#e8362d"],[829,9,"#f4c20d"],[824,14,"#3aa655"],[829,14,"#e8362d"]].forEach(function(p){
  tabG.append("circle").attr("cx", p[0]).attr("cy", p[1]).attr("r", 3).attr("fill", p[2]);
});
tabG.append("text").attr("x", 837).attr("y", 18).attr("font-size", 14).attr("font-family", "Open Sans, sans-serif").attr("fill", "#eef1f5").text("Analysis1");
tabG.append("path").attr("d", "M921,8L916,13L921,18Z M925,8L930,13L925,18Z M936,10L946,10L941,16Z").attr("fill", "#dfe5ee");
</script>
</body>
</html>
